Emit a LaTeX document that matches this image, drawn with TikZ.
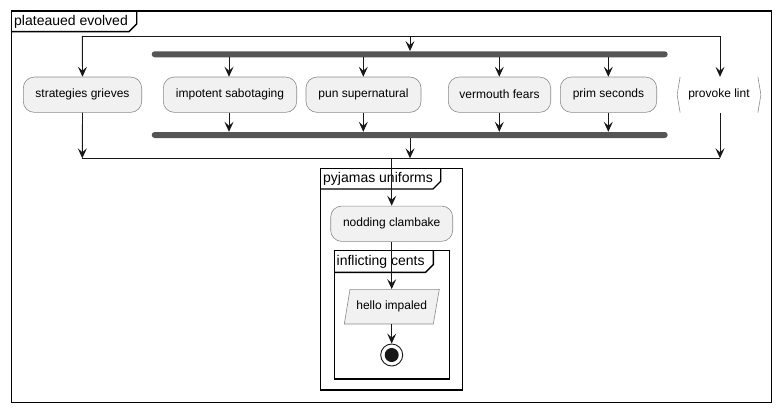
\documentclass[tikz,border=0pt]{standalone}
\usepackage{fontspec}
\setmainfont{Liberation Sans}
\usetikzlibrary{arrows.meta,shapes.geometric}
\definecolor{actfill}{HTML}{F1F1F1}
\definecolor{actline}{HTML}{8A8A8A}
\definecolor{barcol}{HTML}{555555}
\definecolor{linecol}{HTML}{181818}
\tikzset{
  act/.style={draw=actline, fill=actfill, rounded corners=11pt, line width=0.6pt,
    minimum height=35.3pt, inner sep=0pt, font=\fontsize{12}{14}\selectfont},
  barnode/.style={fill=barcol, rounded corners=3pt, minimum width=516pt, minimum height=6pt, inner sep=0pt},
  conn/.style={draw=linecol, line width=0.9pt},
  arr/.style={conn, -{Stealth[length=10pt,width=9pt,inset=4pt]}},
  frame/.style={draw=black, line width=1.4pt},
  ftitle/.style={font=\fontsize{14}{16}\selectfont, inner sep=0pt, anchor=west},
}
\begin{document}
\begin{tikzpicture}[x=1pt,y=-1pt]
\useasboundingbox (0,0) rectangle (782,412);
% outer frame
\draw[frame] (11.3,11) rectangle (771.7,402.5);
\draw[frame] (11.3,31.7) -- (129,31.7) -- (136.7,24) -- (136.7,11);
\node[ftitle] (t1) at (14,21.8) {plateaued evolved};

% activities
\node[act, minimum width=118.4pt] (sg) at (82.5,94.7) {strategies grieves};
\node[act, minimum width=133.4pt] (is) at (230,94.7) {impotent sabotaging};
\node[act, minimum width=115pt] (ps) at (363.5,94.7) {pun supernatural};
\node[act, minimum width=102.4pt] (vf) at (499.5,94.7) {vermouth fears};
\node[act, minimum width=96.4pt] (pr) at (608.5,94.7) {prim seconds};
\node[minimum width=83.4pt, minimum height=35.3pt, inner sep=0pt, font=\fontsize{12}{14}\selectfont] (pl) at (719,94.7) {provoke lint};
\draw[actline, line width=0.6pt] ([xshift=3pt]pl.north west) -- (pl.west) -- ([xshift=3pt]pl.south west);
\draw[actline, line width=0.6pt] ([xshift=-3pt]pl.north east) -- (pl.east) -- ([xshift=-3pt]pl.south east);

% bars
\node[barnode] (fork) at (409.7,54.3) {};
\node[barnode] (join) at (409.7,135) {};

% outer fork / join lines
\coordinate (tl) at (82.3,36);
\coordinate (tr) at (720,36);
\coordinate (tm) at (410,36);
\coordinate (bl) at (82.3,158.3);
\coordinate (br) at (720,158.3);
\coordinate (bm) at (410,158.3);
\coordinate (bo) at (391.7,158.3);
\draw[conn] (tl) -- (tr);
\draw[conn] (bl) -- (br);
\draw[arr] (tl) -- (sg.north);
\draw[arr] (tr) -- (tr |- pl.north);
\draw[arr] (tm) -- (tm |- fork.north);
\draw[arr] (sg.south) -- (bl);
\draw[arr] (br |- pl.south) -- (br);
\draw[arr] (tm |- join.south) -- (bm);

\foreach \n/\x in {is/229,ps/363.3,vf/499.3,pr/608.3}{
  \draw[arr] (\x,0 |- fork.south) -- (\x,0 |- \n.north);
  \draw[arr] (\x,0 |- \n.south) -- (\x,0 |- join.north);
}

% pyjamas uniforms frame
\draw[frame] (320.7,168.3) rectangle (462.7,390);
\draw[frame] (320.7,189) -- (433,189) -- (440.7,181.3) -- (440.7,168.3);
\node[ftitle] (t2) at (323,178.8) {pyjamas uniforms};

\node[act, minimum width=122pt] (nc) at (391.7,223.7) {nodding clambake};

% inflicting cents frame
\draw[frame] (334.3,250.7) rectangle (449.3,379);
\draw[frame] (334.3,272.3) -- (425.6,272.3) -- (433.3,264.6) -- (433.3,250.7);
\node[ftitle] (t3) at (336.5,261.6) {inflicting cents};

\draw[draw=actline, fill=actfill, line width=0.6pt] (350,289.3) -- (439.3,289.3) -- (433.3,324) -- (344.3,324) -- cycle;
\node[minimum width=89pt, minimum height=34.7pt, inner sep=0pt,
  font=\fontsize{12}{14}\selectfont] (hi) at (391.7,306.7) {hello impaled};

\node[circle, draw=linecol, line width=0.9pt, minimum size=22pt, inner sep=0pt] (end) at (391.7,355) {};
\fill[linecol!95!black] (end.center) circle[radius=7pt];

\draw[arr] (bo) -- (nc.north);
\draw[arr] (nc.south) -- (hi.north);
\draw[arr] (hi.south) -- (end.north);
\end{tikzpicture}
\end{document}
